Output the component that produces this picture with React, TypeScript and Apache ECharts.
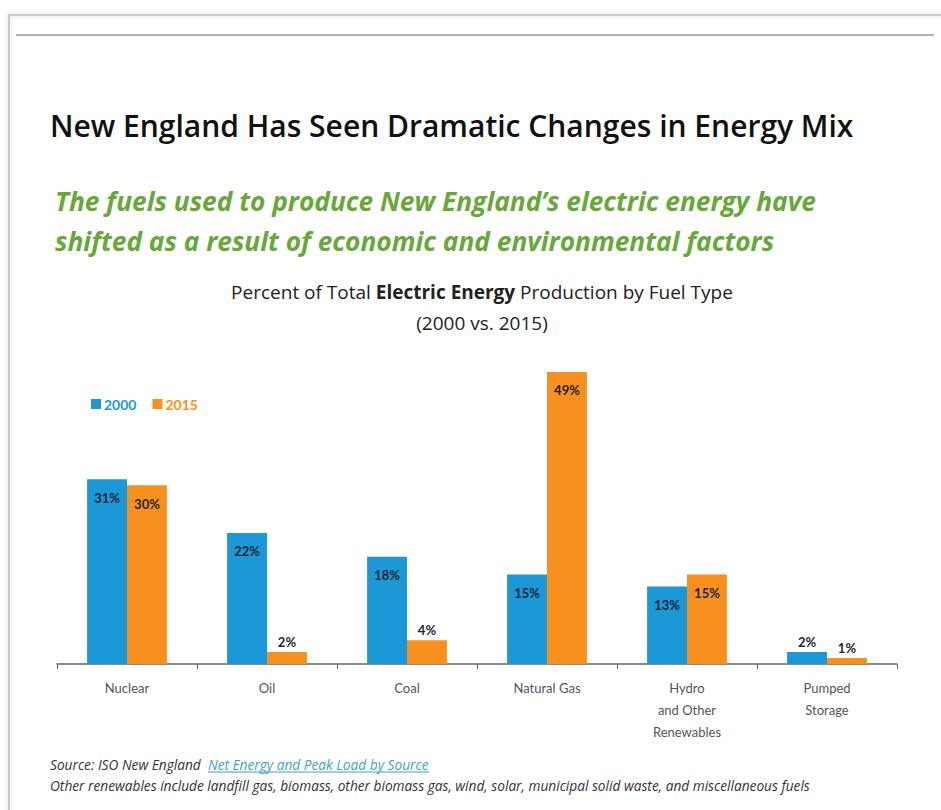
import React, { useEffect, useRef } from "react";
import * as echarts from "echarts";

const categories = ["Nuclear", "Oil", "Coal", "Natural Gas", "Hydro\nand Other\nRenewables", "Pumped\nStorage"];
const values2000 = [31, 22, 18, 15, 13, 2];
const values2015 = [30, 2, 4, 49, 15, 1];
const seriesNames = ["2000", "2015"];

const BLUE = "#1d98d7";
const ORANGE = "#f7901e";
const GREEN = "#68a83a";
const FONT = "Lato, 'Open Sans', sans-serif";
const WIDE = "'Open Sans', Lato, sans-serif";

function barData(vals: number[]) {
  return vals.map((v) => ({
    value: v,
    label: v < 10 ? { position: "top", distance: 4 } : { position: "insideTop", distance: 12 },
  }));
}

export default function App() {
  const ref = useRef<HTMLDivElement>(null);
  useEffect(() => {
    if (!ref.current) return;
    const chart = echarts.init(ref.current, null, { renderer: "svg" });
    const labelStyle = {
      show: true,
      formatter: "{c}%",
      color: "#1b2634",
      fontWeight: "bold",
      fontSize: 13,
      fontFamily: FONT,
    };
    chart.setOption({
      animation: false,
      backgroundColor: "#ffffff",
      title: {
        text: "Percent of Total {b|Electric Energy} Production by Fuel Type\n(2000 vs. 2015)",
        left: 477,
        textAlign: "center",
        top: 271,
        textStyle: {
          fontFamily: WIDE,
          fontSize: 19,
          fontWeight: "normal",
          color: "#222",
          lineHeight: 31,
          rich: {
            b: { fontFamily: WIDE, fontSize: 19, fontWeight: "bold", color: "#222", lineHeight: 31 },
          },
        },
      },
      legend: {
        left: 86,
        top: 392,
        itemWidth: 10,
        itemHeight: 10,
        itemGap: 16,
        icon: "rect",
        data: [
          { name: seriesNames[0], textStyle: { color: BLUE } },
          { name: seriesNames[1], textStyle: { color: ORANGE } },
        ],
        textStyle: { fontFamily: FONT, fontSize: 14, fontWeight: "bold", padding: [0, 0, 0, -2] },
      },
      grid: { left: 57, right: 44, top: 366, bottom: 146, containLabel: false },
      xAxis: {
        type: "category",
        data: categories,
        axisLine: { lineStyle: { color: "#666", width: 1.5 } },
        axisTick: { show: true, length: 5, lineStyle: { color: "#666" } },
        axisLabel: {
          fontFamily: FONT,
          fontSize: 13,
          color: "#555",
          lineHeight: 22,
          margin: 13,
          interval: 0,
        },
      },
      yAxis: { type: "value", min: 0, max: 50, show: false, splitLine: { show: false } },
      series: [
        {
          name: seriesNames[0],
          type: "bar",
          data: barData(values2000),
          itemStyle: { color: BLUE },
          barGap: "0%",
          barCategoryGap: "43%",
          label: labelStyle,
        },
        {
          name: seriesNames[1],
          type: "bar",
          data: barData(values2015),
          itemStyle: { color: ORANGE },
          barGap: "0%",
          barCategoryGap: "43%",
          label: labelStyle,
        },
      ],
      graphic: [
        { type: "rect", shape: { x: 9, y: 15, width: 940, height: 800 }, style: { fill: "none", stroke: "#c8c8c8", lineWidth: 2, shadowBlur: 4, shadowColor: "rgba(0,0,0,0.15)" }, silent: true },
        { type: "line", shape: { x1: 16, y1: 35, x2: 934, y2: 35 }, style: { stroke: "#9a9a9a", lineWidth: 1.5 } },
        {
          type: "text",
          left: 50,
          top: 110,
          style: { text: "New England Has Seen Dramatic Changes in Energy Mix", fontFamily: WIDE, fontSize: 30, fontWeight: 600, fill: "#111" },
        },
        {
          type: "text",
          left: 55,
          top: 181,
          style: {
            text: "The fuels used to produce New England\u2019s electric energy have\nshifted as a result of economic and environmental factors",
            fontFamily: WIDE,
            fontSize: 26.3,
            fontWeight: "bold",
            fontStyle: "italic",
            lineHeight: 40,
            fill: GREEN,
          },
        },
        {
          type: "text",
          left: 50,
          top: 754,
          style: {
            text: "Source: ISO New England\nOther renewables include landfill gas, biomass, other biomass gas, wind, solar, municipal solid waste, and miscellaneous fuels",
            fontFamily: WIDE,
            fontSize: 13.7,
            fontStyle: "italic",
            fill: "#333",
            lineHeight: 21,
          },
        },
        {
          type: "text",
          left: 208,
          top: 754,
          style: {
            text: "Net Energy and Peak Load by Source",
            fontFamily: WIDE,
            fontSize: 13.7,
            fontStyle: "italic",
            fill: "#3d9fd8",
            lineHeight: 21,
          },
        },
        { type: "line", shape: { x1: 208, y1: 772, x2: 429, y2: 772 }, style: { stroke: "#3d9fd8", lineWidth: 1 } },
      ],
    });
    return () => chart.dispose();
  }, []);
  return <div ref={ref} style={{ position: "absolute", left: 0, top: 0, width: 941, height: 810 }} />;
}
